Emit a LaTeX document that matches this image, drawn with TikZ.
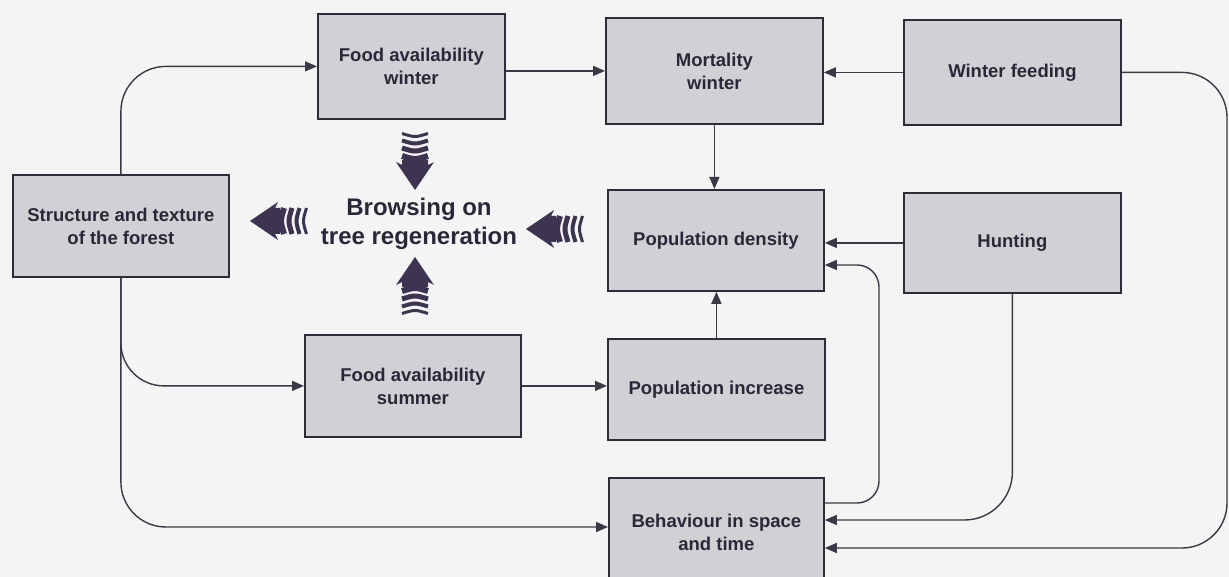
\documentclass[tikz,border=0pt]{standalone}
\usepackage{fontspec}
\setmainfont{Liberation Sans}
\usetikzlibrary{arrows.meta,calc}
\definecolor{bgc}{HTML}{F4F4F4}
\definecolor{boxfill}{HTML}{D1D1D5}
\definecolor{boxline}{HTML}{2E2C38}
\definecolor{linec}{HTML}{3A3946}
\definecolor{txt}{HTML}{2C2738}
\definecolor{arrowc}{HTML}{3C3450}
\tikzset{
  box/.style={draw=boxline, fill=boxfill, line width=1.8pt, anchor=north west,
    inner sep=0pt, align=center, text=txt,
    font=\fontsize{18.5}{23}\selectfont\bfseries},
  conn/.style={draw=linec, line width=1.4pt, -{Triangle[length=12pt,width=10pt]}},
  bigarrow/.pic={
    \fill[arrowc] (0,0) -- (-28,19) -- (-25,13) -- (-30,13) -- (-30,-13) -- (-25,-13) -- (-28,-19) -- cycle;
    \draw[arrowc, line width=6pt] (-34,-13) .. controls (-30,0) .. (-34,13);
    \draw[arrowc, line width=5pt] (-42,-13) .. controls (-38,0) .. (-42,13);
    \draw[arrowc, line width=4pt] (-49.5,-13) .. controls (-45.5,0) .. (-49.5,13);
    \draw[arrowc, line width=3pt] (-56.5,-13) .. controls (-52.5,0) .. (-56.5,13);
  }
}
\begin{document}
\begin{tikzpicture}[x=1pt,y=-1pt]
\fill[bgc] (0,0) rectangle (1229,577);
\useasboundingbox (0,0) rectangle (1229,577);

% boxes
\node[box, minimum width=187pt, minimum height=105pt] (fw) at (317,13) {Food availability\\winter};
\node[box, minimum width=217pt, minimum height=106pt] (mw) at (605,17) {Mortality\\winter};
\node[box, minimum width=217pt, minimum height=105pt] (wf) at (903,19) {Winter feeding};
\node[box, minimum width=216pt, minimum height=102pt] (st) at (12,174) {Structure and texture\\of the forest};
\node[box, minimum width=216pt, minimum height=101pt] (pd) at (607,189) {Population density};
\node[box, minimum width=217pt, minimum height=100pt] (hu) at (903,192) {Hunting};
\node[box, minimum width=216pt, minimum height=102pt] (fs) at (304,334) {Food availability\\summer};
\node[box, minimum width=217pt, minimum height=101pt] (pi) at (607,338) {Population increase};
\node[box, minimum width=215pt, minimum height=108pt] (be) at (608,477) {Behaviour in space\\and time};

\node[text=txt, align=center, inner sep=0pt, font=\fontsize{24}{29}\selectfont\bfseries] (br) at (419,224) {Browsing on\\tree regeneration};

% big striped arrows
\pic[rotate=-90] at (415,190) {bigarrow};
\pic[rotate=90] at (415,257) {bigarrow};
\pic[rotate=180] at (250,221) {bigarrow};
\pic[rotate=180] at (526,229) {bigarrow};

% coordinates
\coordinate (redge) at (1227,548);
\coordinate (midv) at (879,400);

% connectors
\draw[conn, rounded corners=45pt] (st.north) |- (fw.west);
\draw[conn] (fw.east|-mw.west) -- (mw.west);
\draw[conn] (wf.west) -- (mw.east|-wf.west);
\draw[conn] (mw.south) -- (mw.south|-pd.north);
\draw[conn] (hu.west) -- (pd.east|-hu.west);
\draw[conn] (pi.north) -- (pi.north|-pd.south);
\draw[conn] (fs.east) -- (pi.west|-fs.east);
\draw[conn, rounded corners=45pt] (st.south) |- ($(be.north west)+(0,50)$);
\draw[conn, rounded corners=43pt] (st.south) |- (fs.west);
\draw[conn, rounded corners=48pt] (hu.south) |- ($(be.north east)+(0,43)$);
\draw[conn, rounded corners=45pt] (wf.east) -| (redge) -- ($(be.north east)+(0,71)$);
\draw[conn, rounded corners=22pt] ($(be.north east)+(0,26)$) -| (midv) |- ($(pd.north east)+(0,76)$);
\end{tikzpicture}
\end{document}
